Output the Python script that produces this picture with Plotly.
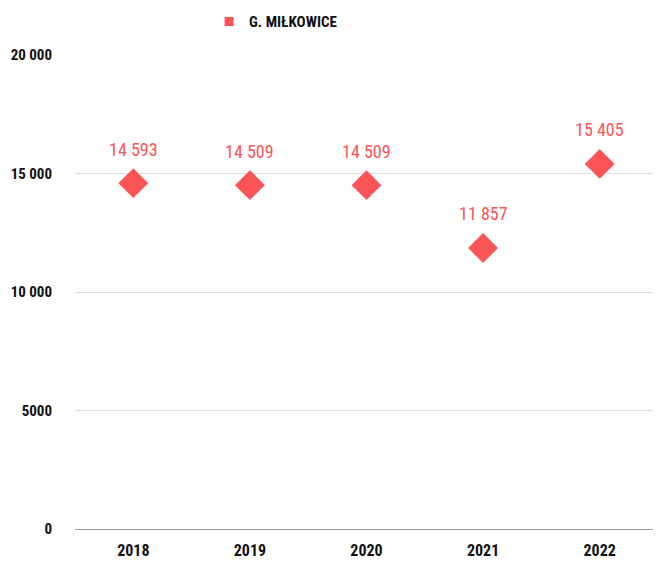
import plotly.graph_objects as go

years = ["2018", "2019", "2020", "2021", "2022"]
values = [14593, 14509, 14509, 11857, 15405]
labels = ["14 593", "14 509", "14 509", "11 857", "15 405"]
series_name = "G. MIŁKOWICE"
y_tickvals = [0, 5000, 10000, 15000, 20000]
y_ticktext = ["0", "5000", "10 000", "15 000", "20 000"]

RED = "#fa5456"
FONT = "Roboto Condensed, Roboto, sans-serif"

fig = go.Figure()
fig.add_trace(go.Scatter(
    x=years, y=values, mode="markers",
    marker=dict(symbol="diamond", size=23, color=RED),
    showlegend=False, hoverinfo="skip"))
# legend entry (square swatch)
fig.add_trace(go.Scatter(
    x=[years[0]], y=[None], mode="markers", name=series_name,
    marker=dict(symbol="square", size=9, color=RED), showlegend=True,
    hoverinfo="skip"))

for i, (v, t) in enumerate(zip(values, labels)):
    fig.add_annotation(x=i, y=v, text=t, showarrow=False, yshift=34,
                       font=dict(family=FONT, size=18, color=RED))

fig.update_layout(
    width=653, height=558,
    margin=dict(l=67, r=3, t=47, b=37, autoexpand=False),
    paper_bgcolor="white", plot_bgcolor="white",
    font=dict(family=FONT, color="#111111"),
    legend=dict(orientation="h", x=0.23, xanchor="left", y=1.07, yanchor="middle",
                font=dict(family=FONT, size=15, color="#111111", weight="bold"),
                itemwidth=30, bgcolor="rgba(0,0,0,0)"),
    xaxis=dict(type="category", categoryorder="array", categoryarray=years,
               range=[-0.5, 4.5], automargin=False,
               showgrid=False, zeroline=False, showline=False,
               ticks="", ticklabelstandoff=10,
               tickfont=dict(family=FONT, size=16, color="#111111", weight="bold")),
    yaxis=dict(range=[0, 20000], tickvals=y_tickvals, ticktext=y_ticktext,
               automargin=False,
               showgrid=True, gridcolor="#dddddd", gridwidth=1,
               zeroline=True, zerolinecolor="#999999", zerolinewidth=1,
               showline=False, ticks="", ticklabelstandoff=22,
               tickfont=dict(family=FONT, size=15, color="#111111", weight="bold")),
)

fig.write_html("out.html")
